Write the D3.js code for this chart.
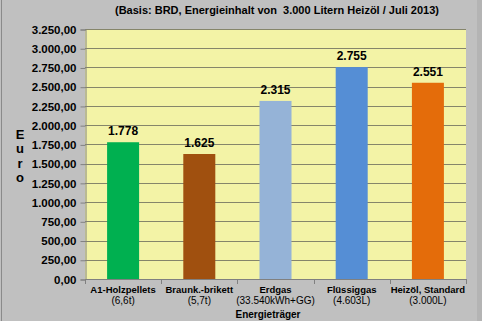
<!DOCTYPE html>
<html><head><meta charset="utf-8">
<script src="https://cdn.jsdelivr.net/npm/d3@7"></script>
<style>html,body{margin:0;padding:0;background:#c0c0c0;overflow:hidden}</style>
</head><body>
<script>
const categories = ["A1-Holzpellets", "Braunk.-brikett", "Erdgas", "Flüssiggas", "Heizöl, Standard"];
const subLabels = ["(6,6t)", "(5,7t)", "(33.540kWh+GG)", "(4.603L)", "(3.000L)"];
const values = [1778, 1625, 2315, 2755, 2551];
const valueLabels = ["1.778", "1.625", "2.315", "2.755", "2.551"];
const barColors = ["#00b050", "#a0500f", "#95b3d7", "#558ed5", "#e46c0a"];
const yTicks = [0, 250, 500, 750, 1000, 1250, 1500, 1750, 2000, 2250, 2500, 2750, 3000, 3250];
const yTickLabels = ["0,00","250,00","500,00","750,00","1.000,00","1.250,00","1.500,00","1.750,00","2.000,00","2.250,00","2.500,00","2.750,00","3.000,00","3.250,00"];
const title = "(Basis: BRD, Energieinhalt von  3.000 Litern Heizöl / Juli 2013)";
const yTitle = ["E","u","r","o"];
const xTitle = "Energieträger";

const W = 482, H = 321;
const m = {left: 85, right: 16, top: 29, bottom: 42};
const FONT = "Arial, 'Liberation Sans', sans-serif";
const svg = d3.select("body").append("svg").attr("width", W).attr("height", H);
svg.append("rect").attr("width", W).attr("height", H).attr("fill", "#c0c0c0");
svg.append("line").attr("x1",1.5).attr("x2",1.5).attr("y1",0).attr("y2",H).attr("stroke","#8a8a8a").attr("stroke-width",1);
svg.append("rect").attr("x",477).attr("y",0).attr("width",5).attr("height",H).attr("fill","#b4b4b4");

const x = d3.scaleBand().domain(categories).range([m.left, W - m.right]).paddingInner(0.58).paddingOuter(0.29);
const y = d3.scaleLinear().domain([0, 3250]).range([H - m.bottom, m.top]);

svg.append("rect").attr("x", m.left).attr("y", m.top).attr("width", W - m.right - m.left).attr("height", H - m.bottom - m.top).attr("fill", "#f3f3a6");

// gridlines
svg.append("g").selectAll("line").data(yTicks.slice(1)).join("line")
  .attr("x1", m.left).attr("x2", W - m.right)
  .attr("y1", d => Math.round(y(d)) + 0.5).attr("y2", d => Math.round(y(d)) + 0.5)
  .attr("stroke", "#85856a").attr("stroke-width", 1);

// y axis
const yAxis = d3.axisLeft(y).tickValues(yTicks).tickSize(5).tickPadding(4)
  .tickFormat((d, i) => yTickLabels[i]);
const gy = svg.append("g").attr("transform", `translate(${m.left + 0.5},0.5)`).call(yAxis);
gy.select(".domain").attr("stroke", "#808080");
gy.selectAll(".tick line").attr("stroke", "#808080");
gy.selectAll("text").attr("font-family", FONT).attr("font-size", 11.5).attr("font-weight", "bold").attr("fill", "#000");

// bars
svg.append("g").selectAll("rect").data(values).join("rect")
  .attr("x", (d, i) => x(categories[i])).attr("width", x.bandwidth())
  .attr("y", d => y(d)).attr("height", d => y(0) - y(d))
  .attr("fill", (d, i) => barColors[i]);

// value labels
svg.append("g").selectAll("text").data(values).join("text")
  .attr("x", (d, i) => x(categories[i]) + x.bandwidth() / 2)
  .attr("y", d => y(d) - 7)
  .attr("text-anchor", "middle")
  .attr("font-family", FONT).attr("font-size", 12).attr("font-weight", "bold")
  .text((d, i) => valueLabels[i]);

// x axis
const bounds = d3.range(categories.length + 1).map(i => m.left + i * (W - m.right - m.left) / categories.length);
svg.append("line").attr("x1", m.left).attr("x2", W - m.right).attr("y1", y(0) + 0.5).attr("y2", y(0) + 0.5).attr("stroke", "#808080");
svg.append("g").selectAll("line").data(bounds).join("line")
  .attr("x1", d => Math.round(d) + 0.5).attr("x2", d => Math.round(d) + 0.5)
  .attr("y1", y(0)).attr("y2", y(0) + 5).attr("stroke", "#808080");

const xl = svg.append("g").attr("font-family", FONT).attr("font-weight", "bold").attr("font-size", 9.5).attr("text-anchor", "middle");
xl.selectAll("text.l1").data(categories).join("text").attr("class", "l1")
  .attr("x", d => x(d) + x.bandwidth() / 2).attr("y", y(0) + 14).text(d => d);
xl.selectAll("text.l2").data(subLabels).join("text").attr("class", "l2")
  .attr("x", (d, i) => x(categories[i]) + x.bandwidth() / 2).attr("y", y(0) + 24.5).attr("font-weight", "normal").attr("font-size", 10).text(d => d);

// axis titles
svg.append("text").attr("x", 268).attr("y", 318).attr("text-anchor", "middle")
  .attr("font-family", FONT).attr("font-size", 10).attr("font-weight", "bold").text(xTitle);
svg.append("g").selectAll("text").data(yTitle).join("text")
  .attr("x", 20).attr("y", (d, i) => 139 + i * 14.3).attr("text-anchor", "middle")
  .attr("font-family", FONT).attr("font-size", 13).attr("font-weight", "bold").text(d => d);

svg.append("text").attr("x", 277).attr("y", 14).attr("text-anchor", "middle")
  .attr("xml:space", "preserve").style("white-space", "pre")
  .attr("font-family", FONT).attr("font-size", 11).attr("font-weight", "bold").text(title);
</script>
</body></html>
